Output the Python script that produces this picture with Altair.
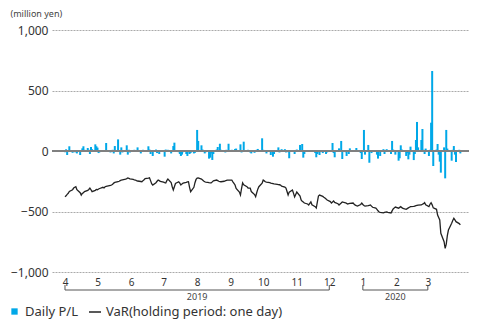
import altair as alt
import pandas as pd

# ---- data (million yen), one value per weekday, grouped by month ----
pl_apr = [-10, 14, -33, 5, 39, -15, -5, -10, -10, -20, -33, 5, 22, 39, 10, 25, 10, -25, 33, 15, 55, 39]
pl_may = [28, -17, -10, 5, -8, 5, 66, 5, -12, 5, 10, -20, 41, 96, 5, -30, 30, -12, 5, 47, -30, 10, -12]
pl_jun = [5, 10, 5, 8, 30, -20, 5, 10, -8, -8, 39, 12, -25, 5, -41, 12, -17, 5, -25, 8]
pl_jul = [5, -47, 12, 5, 10, -20, 5, 41, 69, 8, -10, -25, -41, -30, -10, -25, -41, -10, -25, -17, -20, -15, 5]
pl_aug = [174, 83, 47, 12, -8, -20, -10, -63, -55, -20, -74, -25, 12, 33, 5, 60, 10, 5, -12, 10, 5, 60]
pl_sep = [10, -8, 5, 17, 20, 5, 55, -12, 5, 77, 5, 10, 8, -12, -20, -15, 5, 10, 17, 5, 105]
pl_oct = [10, 5, 8, -20, 5, -33, 8, -47, -25, 5, 30, -12, 5, 15, 15, -12, -5, -10, -60, 8, 5, -25, -5]
pl_nov = [12, 50, 5, 58, -55, -25, 5, 8, 8, 5, 8, -17, -52, -25, -10, -33, -17, 8, 5, -25, -12]
pl_dec = [5, 8, 66, -17, -52, 5, 22, 5, 83, -66, -10, -41, 5, -25, 22, 5, 8, 5, 25, 5, -17, -66]
pl_jan = [5, 174, -30, 50, -97, 5, -17, 8, 8, -30, -63, 5, -41, 15, -25, 5, 15, 5, -25, 83, 12, 5, -30]
pl_feb = [-80, -60, 47, 12, 5, -41, -17, -69, -30, 36, -75, -25, 91, 240, 30, 91, 182, 10, -25, 20]
pl_mar = [-41, 10, 234, 661, -124, 12, 58, -30, -88, -179, 30, -226, 174, 20, 5, -80, 10, 41, -30, -91, 10, -20]

var_apr = [-378, -370, -358, -350, -335, -320, -306, -300, -295, -320, -345, -364, -350, -345, -336, -325, -318, -306, -320, -336, -325, -318]
var_may = [-320, -314, -310, -300, -305, -295, -292, -290, -285, -281, -275, -265, -260, -254, -250, -245, -240, -238, -232, -228, -223, -226, -230]
var_jun = [-235, -238, -240, -245, -248, -252, -254, -245, -238, -228, -224, -221, -245, -270, -281, -262, -250, -240, -245, -252]
var_jul = [-258, -262, -264, -245, -231, -260, -295, -322, -295, -268, -254, -265, -281, -272, -266, -260, -256, -254, -300, -336, -300, -262, -235]
var_aug = [-224, -223, -232, -240, -248, -254, -258, -262, -263, -264, -255, -246, -240, -245, -250, -253, -254, -250, -246, -243, -241, -240]
var_sep = [-240, -255, -268, -281, -310, -340, -364, -310, -264, -280, -295, -306, -306, -306, -335, -360, -378, -345, -315, -295, -265]
var_oct = [-240, -247, -254, -258, -262, -266, -268, -270, -272, -275, -277, -279, -281, -290, -298, -306, -335, -364, -340, -322, -350, -380, -360]
var_nov = [-339, -372, -405, -415, -422, -430, -438, -446, -433, -421, -445, -460, -471, -420, -372, -364, -375, -382, -388, -396, -405]
var_dec = [-418, -430, -422, -413, -425, -436, -446, -438, -430, -421, -428, -433, -438, -435, -432, -430, -440, -448, -452, -455, -442, -430]
var_jan = [-442, -450, -455, -452, -449, -446, -456, -465, -471, -482, -494, -504, -508, -512, -508, -505, -504, -508, -512, -495, -479, -470, -463]
var_feb = [-473, -466, -460, -468, -475, -482, -476, -470, -465, -460, -458, -455, -452, -450, -448, -446, -440, -435, -427, -445]
var_mar = [-460, -440, -427, -445, -470, -482, -529, -550, -570, -680, -750, -804, -770, -700, -653, -597, -575, -556, -570, -584, -600, -611]

month_ticks = [(2019, 4), (2019, 5), (2019, 6), (2019, 7), (2019, 8), (2019, 9), (2019, 10),
               (2019, 11), (2019, 12), (2020, 1), (2020, 2), (2020, 3)]
year_labels = ["2019", "2020"]
year_start = ["2019-04-01T00:00:00", "2020-01-01T00:00:00"]
year_end = ["2019-12-01T00:00:00", "2020-03-01T00:00:00"]
y_ticks = [-1000, -500, 0, 500, 1000]

PL_NAME = "Daily P/L"
VAR_NAME = "VaR(holding period: one day)"
BLUE = "#00a8e8"
FONT = "Noto Sans"

pl = pl_apr + pl_may + pl_jun + pl_jul + pl_aug + pl_sep + pl_oct + pl_nov + pl_dec + pl_jan + pl_feb + pl_mar
var = var_apr + var_may + var_jun + var_jul + var_aug + var_sep + var_oct + var_nov + var_dec + var_jan + var_feb + var_mar
dates = pd.bdate_range("2019-04-01", "2020-03-31")
assert len(dates) == len(pl) == len(var)

df = pd.DataFrame({
    "date": dates.strftime("%Y-%m-%dT00:00:00"),
    "pl": pl,
    "var": var,
    "s1": PL_NAME,
    "s2": VAR_NAME,
})

br = pd.DataFrame({"year": year_labels, "start": year_start, "end": year_end})
br["mid"] = ((pd.to_datetime(br["start"]) + (pd.to_datetime(br["end"]) - pd.to_datetime(br["start"])) / 2)
             .dt.strftime("%Y-%m-%dT%H:%M:%S"))
ends = pd.DataFrame({"d": year_start + year_end})

xscale = alt.Scale(domain=[alt.DateTime(year=2019, month=3, date=20),
                           alt.DateTime(year=2020, month=4, date=8)],
                   padding=0, nice=False)
yscale = alt.Scale(domain=[-1000, 1000], padding=0, nice=False, zero=False)

xaxis = alt.Axis(values=[alt.DateTime(year=y, month=m, date=1) for y, m in month_ticks],
                 format="%-m", labelFontSize=10, labelColor="#333", labelFont=FONT,
                 labelOverlap=False, ticks=False, tickSize=0, domain=False, grid=False,
                 labelPadding=5, title=None)
yaxis = alt.Axis(values=y_ticks, format=",.0f", labelFontSize=12, labelColor="#333", labelFont=FONT,
                 labelOverlap=False, ticks=False, tickSize=0, domain=False, labelPadding=4,
                 grid=True, gridDash=[2, 1], gridColor="#aaaaaa", gridWidth=1,
                 title="(million yen)", titleAngle=0, titleAlign="left", titleBaseline="middle",
                 titleX=-42, titleY=-17, titleFontSize=9, titleFontWeight="normal",
                 titleColor="#444", titleFont=FONT)

base = alt.Chart(df)

bars = base.mark_bar(size=2).encode(
    x=alt.X("date:T", scale=xscale, axis=xaxis),
    y=alt.Y("pl:Q", scale=yscale, axis=yaxis),
    color=alt.Color("s1:N", scale=alt.Scale(domain=[PL_NAME], range=[BLUE]),
                    legend=alt.Legend(title=None, orient="none", legendX=-44, legendY=275,
                                      symbolType="square", symbolSize=40, symbolStrokeWidth=0,
                                      labelFontSize=13, labelColor="#333", labelFont=FONT,
                                      labelLimit=400)),
)

zero = alt.Chart(df).mark_rule(color="#808080", strokeWidth=1.5).encode(y=alt.datum(0))

line = base.mark_line(strokeWidth=1.3).encode(
    x=alt.X("date:T", scale=xscale, axis=xaxis),
    y=alt.Y("var:Q", scale=yscale, axis=yaxis),
    stroke=alt.Stroke("s2:N", scale=alt.Scale(domain=[VAR_NAME], range=["#222222"]),
                      legend=alt.Legend(title=None, orient="none", legendX=36, legendY=275,
                                        symbolType="stroke", symbolSize=144, symbolStrokeWidth=1.5,
                                        labelFontSize=13, labelColor="#333", labelFont=FONT,
                                        labelLimit=400)),
)

bracket_h = alt.Chart(br).mark_rule(color="#555", strokeWidth=1).encode(
    x=alt.X("start:T", scale=xscale, axis=xaxis), x2="end:T", y=alt.value(260))
bracket_t = alt.Chart(ends).mark_rule(color="#555", strokeWidth=1).encode(
    x=alt.X("d:T", scale=xscale, axis=xaxis), y=alt.value(255), y2=alt.value(260))
year_txt = alt.Chart(br).mark_text(fontSize=9, color="#444", font=FONT, baseline="middle").encode(
    x=alt.X("mid:T", scale=xscale, axis=xaxis), y=alt.value(267), text="year:N")

chart = alt.layer(bars, zero, line, bracket_h, bracket_t, year_txt).resolve_legend(
    color="independent", stroke="independent"
).properties(
    width=417, height=242,
    autosize=alt.AutoSizeParams(type="none"),
    padding={"left": 44, "top": 22, "right": 1, "bottom": 48},
).configure_view(stroke=None)

chart.save("out.html", embed_options={"renderer": "svg", "actions": False})
